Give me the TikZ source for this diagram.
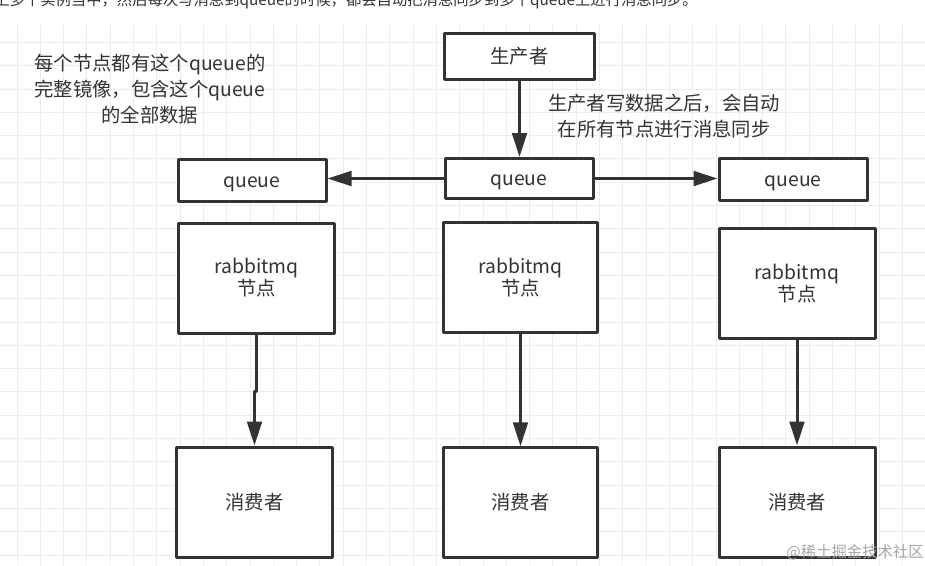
\documentclass[tikz,border=0pt]{standalone}
\usepackage{fontspec}
\newfontfamily\cjk{Noto Sans CJK SC}
\usetikzlibrary{arrows.meta}
\definecolor{inkgray}{RGB}{51,51,51}
\definecolor{gridgray}{RGB}{236,236,236}

\begin{document}
\begin{tikzpicture}[x=0.75pt,y=-0.75pt,line cap=round,line join=round,
  box/.style={draw=inkgray,line width=2.25pt,fill=white,inner sep=0pt,align=center,text=inkgray,
    font=\cjk\fontsize{14.5pt}{16.5pt}\selectfont},
  onebox/.style={box,text height=11.5pt,text depth=1pt},
  note/.style={align=center,text=inkgray,font=\cjk\fontsize{14.5pt}{19.5pt}\selectfont},
  arr/.style={-{Triangle[length=18pt,width=11pt]},draw=inkgray,line width=2.25pt}]
\useasboundingbox (0,0) rectangle (925,565);
\fill[white] (0,0) rectangle (925,565);
% grid
\begin{scope}
\clip (0,25) rectangle (925,565);
\foreach \i in {0,...,40} \draw[gridgray,line width=0.75pt] ({17+23.3*(\i-1)},25) -- ++(0,540);
\foreach \j in {1,...,24} \draw[gridgray,line width=0.75pt] (0,{19.1+23.3*\j}) -- ++(925,0);
\end{scope}
% cut-off line of the article above
\node[anchor=base west,inner sep=0pt,text=inkgray,font=\cjk\fontsize{11.5pt}{13pt}\selectfont] (topline) at (-6,5) {上多个实例当中，然后每次写消息到queue的时候，都会自动把消息同步到多个queue上进行消息同步。};
% boxes
\node[onebox,minimum width=112.5pt,minimum height=34.5pt] (prod) at (519.5,56.5) {生产者};
\node[onebox,minimum width=111pt,minimum height=30pt] (q2) at (519,178.5) {queue};
\node[onebox,minimum width=111pt,minimum height=31.5pt] (q1) at (252,180) {queue};
\node[onebox,minimum width=111pt,minimum height=31.5pt] (q3) at (793,179) {queue};
\node[box,minimum width=117pt,minimum height=82.5pt] (rm1) at (256.5,278) {rabbitmq\\节点};
\node[box,minimum width=116pt,minimum height=82pt] (rm2) at (520.5,277.5) {rabbitmq\\节点};
\node[box,minimum width=117pt,minimum height=82pt] (rm3) at (797,283.5) {rabbitmq\\节点};
\node[onebox,minimum width=117pt,minimum height=82.5pt] (c1) at (254.5,502) {消费者};
\node[onebox,minimum width=116pt,minimum height=82pt] (c2) at (520.5,502.5) {消费者};
\node[onebox,minimum width=117pt,minimum height=82.5pt] (c3) at (797,502) {消费者};
% notes
\node[note] (mirrornote) at (150,89.5) {每个节点都有这个queue的\\完整镜像，包含这个queue\\的全部数据};
\node[note] (syncnote) at (664,116) {生产者写数据之后，会自动\\在所有节点进行消息同步};
% connectors
\draw[arr] (prod.south) -- (prod.south |- q2.north);
\draw[arr] (q2.west) -- (q2.west -| q1.east);
\draw[arr] (q2.east) -- (q2.east -| q3.west);
\draw[arr] (rm1.south) -- +(0,57) -| (c1.north);
\draw[arr] (rm2.south) -- (rm2.south |- c2.north);
\draw[arr] (rm3.south) -- (rm3.south |- c3.north);
% watermark
\node[text=black!35,inner sep=0pt,font=\cjk\fontsize{11.5pt}{13pt}\selectfont] (mark) at (855,552) {@稀土掘金技术社区};
\end{tikzpicture}
\end{document}
